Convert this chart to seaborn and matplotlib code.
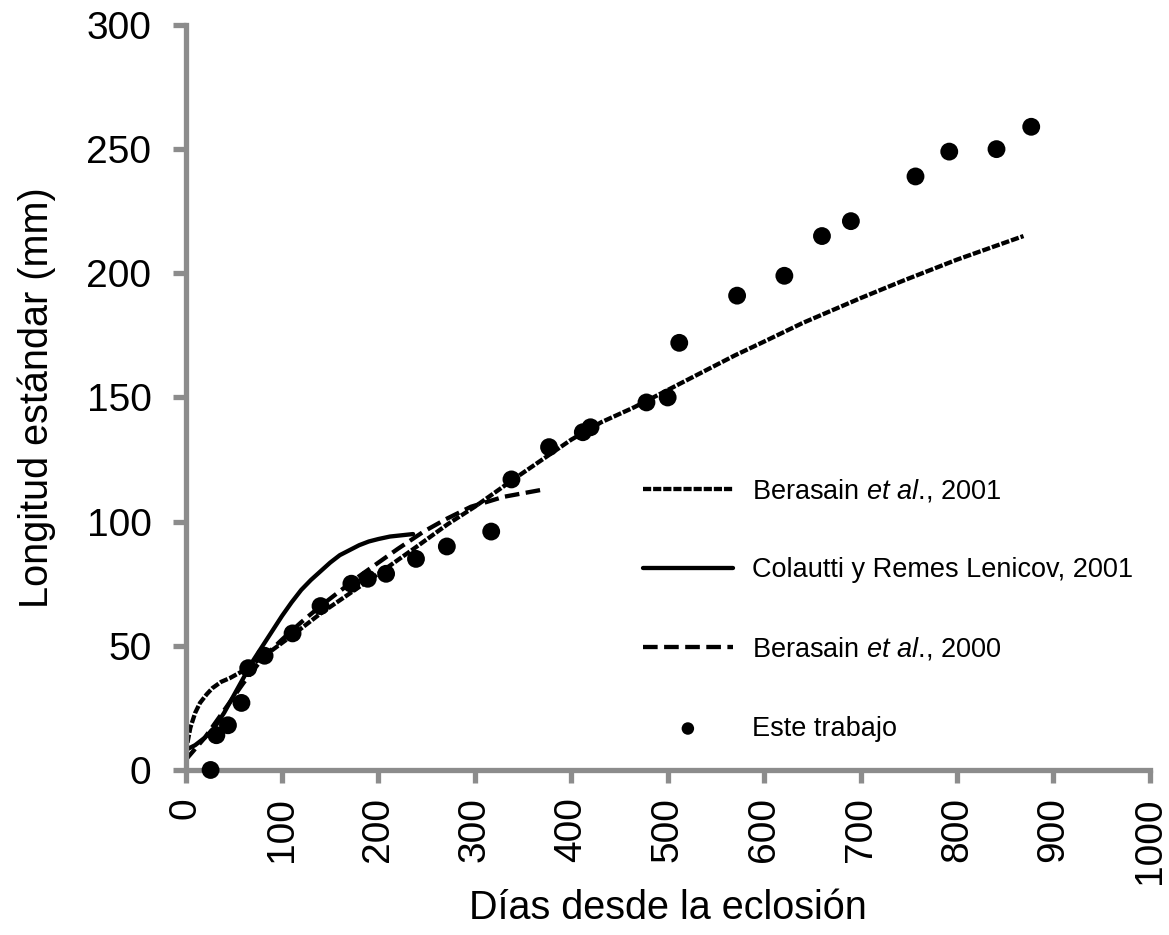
import matplotlib
matplotlib.use("Agg")
import matplotlib.pyplot as plt
import seaborn as sns
import pandas as pd

# Observed data (Este trabajo)
obs_days = [26, 32, 44, 58, 65, 82, 111, 140, 172, 189, 208, 239, 271, 317, 338, 377,
            412, 420, 478, 500, 512, 572, 621, 660, 690, 757, 792, 841, 877]
obs_len = [0, 14, 18, 27, 41, 46, 55, 66, 75, 77, 79, 85, 90, 96, 117, 130,
           136, 138, 148, 150, 172, 191, 199, 215, 221, 239, 249, 250, 259]

# Berasain et al., 2001 (fine dashes)
b01_days = [0, 5, 10, 15, 22, 28, 37, 46, 60, 82, 110, 140, 170, 200, 240, 272, 300,
            340, 400, 431, 465, 500, 535, 570, 600, 640, 700, 744, 800, 869]
b01_len = [7, 17, 23, 27, 30.5, 33, 35.5, 37, 40, 46, 54, 63, 71, 79, 90, 99, 106,
           117, 133, 140, 146, 153, 160, 167, 172.5, 180, 190, 197, 205.5, 215]

# Colautti y Remes Lenicov, 2001 (solid)
col_days = [0, 10, 20, 30, 40, 50, 60, 70, 80, 90, 100, 110, 120, 130, 140, 150,
            160, 170, 180, 190, 200, 212, 224, 236]
col_len = [8, 10, 13, 17, 23, 30, 37, 44, 50, 56, 62, 67.5, 72.5, 76.5, 80, 83.5,
           86.5, 88.5, 90.5, 92, 93, 94, 94.5, 95]

# Berasain et al., 2000 (dashed)
b00_days = [0, 20, 40, 60, 80, 100, 120, 140, 160, 180, 200, 220, 247, 270, 296,
            330, 372]
b00_len = [4, 13, 24, 35, 45, 52.5, 59.5, 66, 72, 78, 83.5, 89, 96, 101, 106,
           110, 113]

labels = [r"Berasain $\it{et\ al}$., 2001", "Colautti y Remes Lenicov, 2001",
          r"Berasain $\it{et\ al}$., 2000", "Este trabajo"]

sns.set_style("ticks")
plt.rcParams['font.family'] = ['Liberation Sans', 'DejaVu Sans']
plt.rcParams['mathtext.fontset'] = 'custom'
plt.rcParams['mathtext.rm'] = 'Liberation Sans'
plt.rcParams['mathtext.it'] = 'Liberation Sans:italic'
plt.rcParams['text.color'] = 'black'
plt.rcParams['axes.labelcolor'] = 'black'

fig = plt.figure(figsize=(11.69, 9.35), dpi=100)
ax = fig.add_axes([0.1587, 0.1765, 0.8249, 0.7968])

lw = 3.1
df01 = pd.DataFrame({"x": b01_days, "y": b01_len})
dfc = pd.DataFrame({"x": col_days, "y": col_len})
df00 = pd.DataFrame({"x": b00_days, "y": b00_len})
dfo = pd.DataFrame({"x": obs_days, "y": obs_len})

sns.lineplot(data=df01, x="x", y="y", ax=ax, color="black", lw=lw,
             label=labels[0], sort=False)
ax.lines[-1].set_dashes((1.9, 0.45))
sns.lineplot(data=dfc, x="x", y="y", ax=ax, color="black", lw=lw,
             label=labels[1], sort=False)
sns.lineplot(data=df00, x="x", y="y", ax=ax, color="black", lw=lw,
             label=labels[2], sort=False)
ax.lines[-1].set_dashes((3.4, 1.5))
sns.scatterplot(data=dfo, x="x", y="y", ax=ax, color="black", s=165,
                edgecolor="none", label=labels[3], zorder=5, clip_on=False)

ax.set_xlim(0, 1000)
ax.set_ylim(0, 300)
ax.set_xticks(range(0, 1001, 100))
ax.set_yticks(range(0, 301, 50))
ax.set_xlabel("Días desde la eclosión", fontsize=28.5, labelpad=4, color="black")
ax.set_ylabel("Longitud estándar (mm)", fontsize=28.5, labelpad=22, color="black")

for s in ["top", "right"]:
    ax.spines[s].set_visible(False)
gray = "#8c8c8c"
for s in ["left", "bottom"]:
    ax.spines[s].set_color(gray)
    ax.spines[s].set_linewidth(3.8)
ax.tick_params(axis="both", colors=gray, width=3.8, length=9.5, labelsize=28,
               labelcolor="black")
ax.tick_params(axis="y", pad=15)
ax.tick_params(axis="x", labelrotation=90, pad=10)

leg = ax.legend(loc="upper left", bbox_to_anchor=(0.4746, 0.393), frameon=False,
                fontsize=19.5, labelspacing=1.95, handlelength=3.3, handletextpad=0.7,
                borderpad=0, borderaxespad=0, markerscale=0.7)
for t in leg.get_texts():
    t.set_color("black")

fig.savefig("out.png", dpi=100)
